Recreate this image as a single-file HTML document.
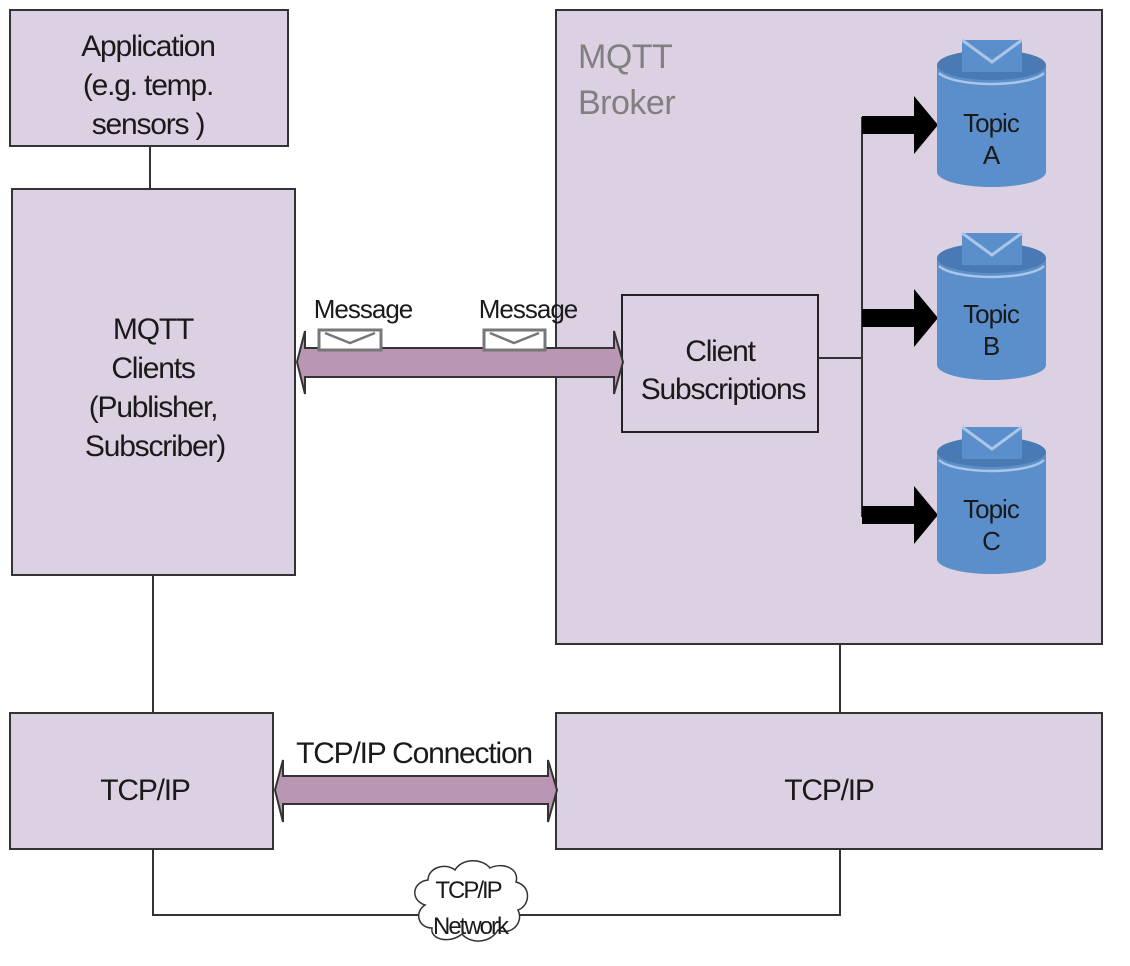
<!DOCTYPE html>
<html><head><style>
html,body{margin:0;padding:0;background:#fff;}
svg{display:block;}
text{font-family:"Liberation Sans",Arial,sans-serif;fill:#1a1a1a;}
</style></head><body>
<svg width="1130" height="966" viewBox="0 0 1130 966" xmlns="http://www.w3.org/2000/svg">
<defs>
<g id="cyl">
  <path d="M0,0 L0,107 A54.5,15 0 0 0 109,107 L109,0 Z" fill="#5b8fcc"/>
  <ellipse cx="54.5" cy="0" rx="54.5" ry="15" fill="#4a7ab4"/>
  <path d="M2,8 A54.5,15 0 0 0 107,8" fill="none" stroke="#a9c6e8" stroke-width="2.5"/>
  <rect x="25" y="-25" width="60" height="32" fill="#5b8fcc"/>
  <path d="M25,-25 L55,-3 L85,-25" fill="none" stroke="#a9c6e8" stroke-width="3"/>
</g>
</defs>
<rect x="556" y="10" width="546" height="634" fill="#dcd1e2" stroke="#333" stroke-width="2"/>
<rect x="10" y="10" width="278" height="136" fill="#dcd1e2" stroke="#333" stroke-width="2"/>
<rect x="12" y="189" width="283" height="386" fill="#dcd1e2" stroke="#333" stroke-width="2"/>
<rect x="10" y="713" width="263" height="136" fill="#dcd1e2" stroke="#333" stroke-width="2"/>
<rect x="556" y="713" width="546" height="136" fill="#dcd1e2" stroke="#333" stroke-width="2"/>
<rect x="622" y="295" width="196" height="137" fill="#dcd1e2" stroke="#222" stroke-width="2"/>
<g stroke="#333" stroke-width="2" fill="none">
<line x1="150" y1="146" x2="150" y2="189"/>
<line x1="153" y1="575" x2="153" y2="713"/>
<line x1="840" y1="644" x2="840" y2="713"/>
<polyline points="153,849 153,915 840,915 840,849"/>
<line x1="818" y1="358" x2="862" y2="358"/>
<line x1="862" y1="117" x2="862" y2="517"/>
</g>
<g fill="#000">
<path d="M862,116 L914,116 L914,96 L938,125 L914,154 L914,134 L862,134Z"/>
<path d="M862,309 L914,309 L914,289 L938,318 L914,347 L914,327 L862,327Z"/>
<path d="M862,506 L914,506 L914,486 L938,515 L914,544 L914,524 L862,524Z"/>
</g>
<use href="#cyl" x="937" y="65"/>
<use href="#cyl" x="937" y="258"/>
<use href="#cyl" x="937" y="452"/>
<g font-size="26" text-anchor="middle" letter-spacing="-1">
<text x="991" y="132">Topic</text><text x="991" y="164">A</text>
<text x="991" y="323">Topic</text><text x="991" y="355">B</text>
<text x="991" y="518">Topic</text><text x="991" y="550">C</text>
</g>
<path d="M297,362 L305,331 L305,348 L614,348 L614,331 L623,362 L614,394 L614,377 L305,377 L305,394 Z" fill="#b996b3" stroke="#333" stroke-width="2"/>
<rect x="319" y="330" width="62" height="20" fill="#fff" stroke="#777" stroke-width="3"/>
<path d="M325,333 L350,343 L375,333" fill="none" stroke="#777" stroke-width="2.5"/>
<rect x="484" y="330" width="61" height="20" fill="#fff" stroke="#777" stroke-width="3"/>
<path d="M490,333 L514,343 L539,333" fill="none" stroke="#777" stroke-width="2.5"/>
<path d="M275,790 L283,760 L283,776 L548,776 L548,760 L557,790 L548,822 L548,804 L283,804 L283,822 Z" fill="#b996b3" stroke="#333" stroke-width="2"/>
<path d="M425,905 C410,900 412,882 428,880 C428,868 445,862 455,870 C462,858 482,858 490,868 C502,862 520,868 516,882 C532,886 530,906 518,910 C524,922 512,936 498,930 C490,944 470,944 462,934 C450,944 430,940 432,928 C418,928 414,912 425,905 Z" fill="#fff" stroke="#333" stroke-width="1.5"/>
<g text-anchor="middle" font-size="24" letter-spacing="-2">
<text x="468" y="898">TCP/IP</text><text x="470" y="934">Network</text>
</g>
<g text-anchor="middle" font-size="30" letter-spacing="-1.2">
<text x="148" y="56">Application</text>
<text x="148" y="95">(e.g. temp.</text>
<text x="148" y="134">sensors )</text>
<text x="153" y="339">MQTT</text>
<text x="153" y="378">Clients</text>
<text x="153" y="417">(Publisher,</text>
<text x="155" y="456">Subscriber)</text>
<text x="720" y="361">Client</text>
<text x="723" y="399">Subscriptions</text>
<text x="145" y="800">TCP/IP</text>
<text x="829" y="800">TCP/IP</text>
<text x="414" y="763">TCP/IP Connection</text>
</g>
<g font-size="26" letter-spacing="-1" text-anchor="middle">
<text x="363" y="318">Message</text>
<text x="528" y="318">Message</text>
</g>
<g font-size="34" letter-spacing="-0.5">
<text x="578" y="68" style="fill:#808080">MQTT</text>
<text x="578" y="114" style="fill:#808080">Broker</text>
</g>
</svg>
</body></html>
